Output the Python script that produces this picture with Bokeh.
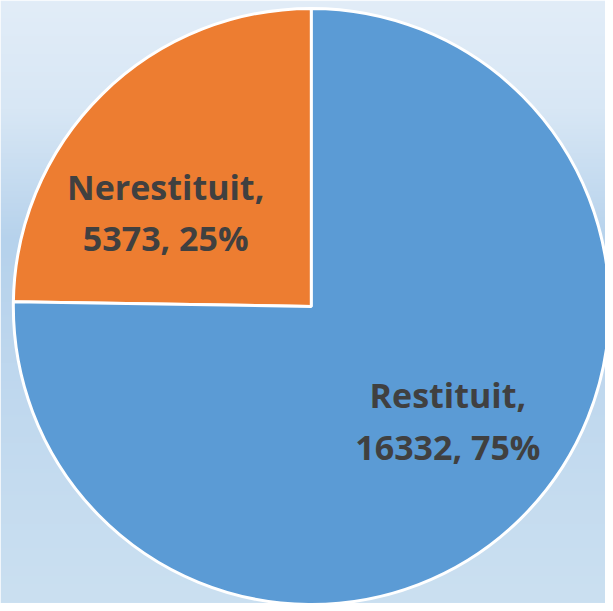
import numpy as np
from bokeh.plotting import figure
from bokeh.models import Range1d, ColumnDataSource
from bokeh.core.properties import value
from bokeh.embed import file_html
from bokeh.resources import INLINE

categories = ["Nerestituit", "Restituit"]
values = [5373, 16332]
percents = ["25%", "75%"]
colors = ["#ED7D31", "#5B9BD5"]

W, H = 605, 603
p = figure(width=W, height=H, output_backend="svg", toolbar_location=None,
           x_range=Range1d(0, 613), y_range=Range1d(0, 611),
           min_border=0, border_fill_color="#e2edf8", outline_line_color=None)
p.axis.visible = False
p.grid.visible = False

# background vertical gradient
stops_pos = [0.0, 0.18, 0.40, 0.60, 1.0]
stops_col = [(226, 237, 248), (216, 231, 245), (182, 210, 236), (190, 215, 238), (203, 224, 241)]
n = 300
t = np.linspace(0, 1, n)
img = np.zeros((n, 1), dtype=np.uint32)
view = img.view(dtype=np.uint8).reshape((n, 1, 4))
for c in range(3):
    ch = np.interp(t, stops_pos, [s[c] for s in stops_col])
    view[:, 0, c] = ch[::-1].astype(np.uint8)
view[:, :, 3] = 255
p.image_rgba(image=[img], x=0, y=0, dw=613, dh=611)

total = sum(values)
fracs = [v / total for v in values]
start = [np.pi / 2]
for f in fracs[:-1]:
    start.append(start[-1] + 2 * np.pi * f)
end = [s + 2 * np.pi * f for s, f in zip(start, fracs)]

cx, cy, r = 315, 301, 302
src = ColumnDataSource(dict(start=start, end=end, color=colors))
p.wedge(x=cx, y=cy, radius=r, start_angle="start", end_angle="end",
        fill_color="color", line_color="white", line_width=3, source=src)

# labels (layout: polar placement relative to pie centre)
lab_pos = [(176, np.deg2rad(147)), (180, np.deg2rad(-39.8))]
lx, ly1, ly2, t1, t2 = [], [], [], [], []
for cat, v, pc, (d, a) in zip(categories, values, percents, lab_pos):
    x = cx + d * np.cos(a)
    y = cy + d * np.sin(a)
    lx.append(x)
    ly1.append(y + 25)
    ly2.append(y - 27)
    t1.append(cat + ",")
    t2.append(f"{v}, {pc}")
lsrc = ColumnDataSource(dict(x=lx, y1=ly1, y2=ly2, t1=t1, t2=t2))
for col, ycol in [("t1", "y1"), ("t2", "y2")]:
    p.text(x="x", y=ycol, text=col, source=lsrc,
           text_font=value("Open Sans"), text_font_style="bold", text_font_size="34px",
           text_color="#404040", text_align="center", text_baseline="middle")

html = file_html(p, INLINE)
html = html.replace("<body>", '<body style="background:#e2edf8">', 1)
open("out.html", "w").write(html)
